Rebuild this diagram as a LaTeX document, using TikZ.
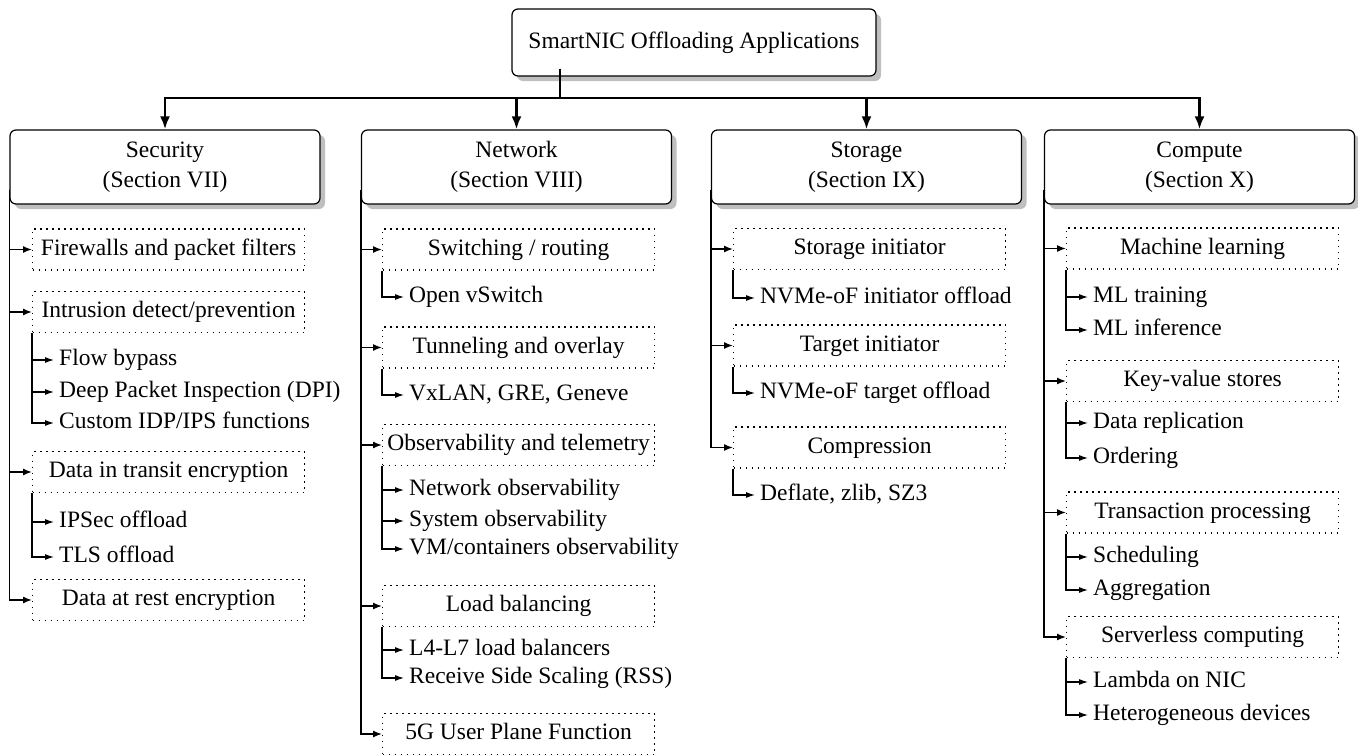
\documentclass[tikz,border=0pt]{standalone}
\usepackage{fontspec}
\setmainfont{LiberationSerif}[Extension=.ttf,UprightFont=*-Regular,BoldFont=*-Bold,ItalicFont=*-Italic,BoldItalicFont=*-BoldItalic]
\usetikzlibrary{arrows.meta,shadows}

\begin{document}
\begin{tikzpicture}[x=1pt,y=-1pt,
  every node/.style={font=\fontsize{23.5}{30}\selectfont},
  rootbox/.style={draw,line width=1.2pt,rounded corners=6pt,fill=white,
    minimum width=364pt,minimum height=67pt,
    drop shadow={shadow xshift=5pt,shadow yshift=-5pt,fill=black!25,opacity=1}},
  secbox/.style={rootbox,minimum width=310pt,minimum height=74pt,align=center},
  itembox/.style={draw,line width=1.1pt,dash pattern=on 1.1pt off 4.9pt,anchor=west,
    minimum width=272pt,minimum height=41pt,text height=16pt,text depth=5pt},
  subitem/.style={anchor=west,inner xsep=5pt,inner ysep=0pt,text height=16pt,text depth=5pt},
  mainlink/.style={draw,line width=2.6pt,-{Latex[length=13pt,width=10pt]}},
  seclink/.style={draw,line width=1.4pt,-{Latex[length=9pt,width=7pt]}},
  sublink/.style={draw,line width=1.1pt,-{Latex[length=9pt,width=6pt]}}]
\useasboundingbox (0,0) rectangle (1358,755);

% root and the four sections
\node[rootbox] (root) at (694,42.5) {SmartNIC Offloading Applications};
\node[secbox] (sec) at (165,167) {Security\\(Section VII)};
\node[secbox] (net) at (516.5,167) {Network\\(Section VIII)};
\node[secbox] (sto) at (866.5,167) {Storage\\(Section IX)};
\node[secbox] (cmp) at (1199.5,167) {Compute\\(Section X)};

\coordinate (hub) at (560,98);
\path[draw,line width=2.6pt] ([yshift=8pt]root.south -| hub) -- (hub);
\path[mainlink] (hub) -| (sec.north);
\path[mainlink] (hub) -| (net.north);
\path[mainlink] (hub) -| (sto.north);
\path[mainlink] (hub) -| (cmp.north);

% security
\node[itembox] (fw) at (32,249.5) {Firewalls and packet filters};
\node[itembox] (ids) at (32,312) {Intrusion detect/prevention};
\node[subitem] (fb) at (54,360) {Flow bypass};
\node[subitem] (dpi) at (54,392) {Deep Packet Inspection (DPI)};
\node[subitem] (idp) at (54,423) {Custom IDP/IPS functions};
\node[itembox] (dit) at (32,472) {Data in transit encryption};
\node[subitem] (ips) at (54,522) {IPSec offload};
\node[subitem] (tls) at (54,557) {TLS offload};
\node[itembox] (dar) at (32,600) {Data at rest encryption};

\path[seclink] ([yshift=15pt]sec.south west) |- (fw.west);
\path[seclink] ([yshift=15pt]sec.south west) |- (ids.west);
\path[seclink] ([yshift=15pt]sec.south west) |- (dit.west);
\path[seclink] ([yshift=15pt]sec.south west) |- (dar.west);
\path[sublink] (ids.south west) |- (fb.west);
\path[sublink] (ids.south west) |- (dpi.west);
\path[sublink] (ids.south west) |- (idp.west);
\path[sublink] (dit.south west) |- (ips.west);
\path[sublink] (dit.south west) |- (tls.west);

% network
\node[itembox] (sw) at (382,249.5) {Switching / routing};
\node[subitem] (ovs) at (404,297) {Open vSwitch};
\node[itembox] (tun) at (382,347.5) {Tunneling and overlay};
\node[subitem] (vxl) at (404,395) {VxLAN, GRE, Geneve};
\node[itembox] (obs) at (382,445) {Observability and telemetry};
\node[subitem] (nob) at (404,490) {Network observability};
\node[subitem] (sob) at (404,521) {System observability};
\node[subitem] (vob) at (404,549) {VM/containers observability};
\node[itembox] (lb) at (382,606) {Load balancing};
\node[subitem] (l47) at (404,650) {L4-L7 load balancers};
\node[subitem] (rss) at (404,678) {Receive Side Scaling (RSS)};
\node[itembox] (upf) at (382,734) {5G User Plane Function};

\path[seclink] ([yshift=15pt]net.south west) |- (sw.west);
\path[seclink] ([yshift=15pt]net.south west) |- (tun.west);
\path[seclink] ([yshift=15pt]net.south west) |- (obs.west);
\path[seclink] ([yshift=15pt]net.south west) |- (lb.west);
\path[seclink] ([yshift=15pt]net.south west) |- (upf.west);
\path[sublink] (sw.south west) |- (ovs.west);
\path[sublink] (tun.south west) |- (vxl.west);
\path[sublink] (obs.south west) |- (nob.west);
\path[sublink] (obs.south west) |- (sob.west);
\path[sublink] (obs.south west) |- (vob.west);
\path[sublink] (lb.south west) |- (l47.west);
\path[sublink] (lb.south west) |- (rss.west);

% storage
\node[itembox] (si) at (733,249) {Storage initiator};
\node[subitem] (nio) at (755,298) {NVMe-oF initiator offload};
\node[itembox] (ti) at (733,345.5) {Target initiator};
\node[subitem] (nto) at (755,393) {NVMe-oF target offload};
\node[itembox] (cpr) at (733,447.5) {Compression};
\node[subitem] (dfl) at (755,495) {Deflate, zlib, SZ3};

\path[seclink] ([yshift=15pt]sto.south west) |- (si.west);
\path[seclink] ([yshift=15pt]sto.south west) |- (ti.west);
\path[seclink] ([yshift=15pt]sto.south west) |- (cpr.west);
\path[sublink] (si.south west) |- (nio.west);
\path[sublink] (ti.south west) |- (nto.west);
\path[sublink] (cpr.south west) |- (dfl.west);

% compute
\node[itembox] (ml) at (1066,248.5) {Machine learning};
\node[subitem] (mlt) at (1088,297) {ML training};
\node[subitem] (mli) at (1088,330) {ML inference};
\node[itembox] (kv) at (1066,381) {Key-value stores};
\node[subitem] (rep) at (1088,423) {Data replication};
\node[subitem] (ord) at (1088,458) {Ordering};
\node[itembox] (tp) at (1066,512.5) {Transaction processing};
\node[subitem] (sch) at (1088,557) {Scheduling};
\node[subitem] (agg) at (1088,590) {Aggregation};
\node[itembox] (sl) at (1066,637) {Serverless computing};
\node[subitem] (lam) at (1088,682) {Lambda on NIC};
\node[subitem] (het) at (1088,715) {Heterogeneous devices};

\path[seclink] ([yshift=15pt]cmp.south west) |- (ml.west);
\path[seclink] ([yshift=15pt]cmp.south west) |- (kv.west);
\path[seclink] ([yshift=15pt]cmp.south west) |- (tp.west);
\path[seclink] ([yshift=15pt]cmp.south west) |- (sl.west);
\path[sublink] (ml.south west) |- (mlt.west);
\path[sublink] (ml.south west) |- (mli.west);
\path[sublink] (kv.south west) |- (rep.west);
\path[sublink] (kv.south west) |- (ord.west);
\path[sublink] (tp.south west) |- (sch.west);
\path[sublink] (tp.south west) |- (agg.west);
\path[sublink] (sl.south west) |- (lam.west);
\path[sublink] (sl.south west) |- (het.west);
\end{tikzpicture}
\end{document}
